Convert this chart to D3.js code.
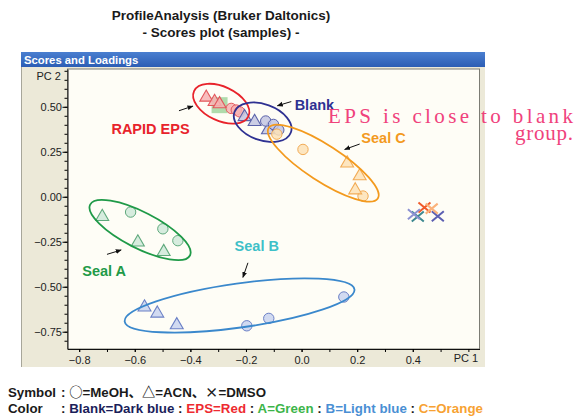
<!DOCTYPE html>
<html>
<head>
<meta charset="utf-8">
<script src="https://cdn.jsdelivr.net/npm/d3@7"></script>
<style>
  body { margin: 0; background: #fff; }
  svg { display: block; font-family: "Liberation Sans", Arial, "Noto Sans CJK JP", sans-serif; }
</style>
</head>
<body>
<div id="chart"></div>
<script>
(function(d3) {
  'use strict';

  // PCA scores
  var sampleGroup = [
    'EPS', 'EPS', 'EPS', 'EPS', 'EPS', 'EPS', 'EPS',
    'Blank', 'Blank', 'Blank', 'Blank', 'Blank', 'Blank', 'Blank',
    'Seal C', 'Seal C', 'Seal C', 'Seal C', 'Seal C', 'Seal C', 'Seal C',
    'Seal A', 'Seal A', 'Seal A', 'Seal A', 'Seal A', 'Seal A', 'Seal A',
    'Seal B', 'Seal B', 'Seal B', 'Seal B', 'Seal B', 'Seal B', 'Seal B'
  ];
  var sampleSolvent = [
    'ACN', 'ACN', 'ACN', 'MeOH', 'MeOH', 'MeOH', 'DMSO',
    'ACN', 'ACN', 'ACN', 'MeOH', 'MeOH', 'MeOH', 'DMSO',
    'MeOH', 'MeOH', 'MeOH', 'ACN', 'ACN', 'ACN', 'DMSO',
    'ACN', 'ACN', 'ACN', 'MeOH', 'MeOH', 'MeOH', 'DMSO',
    'ACN', 'ACN', 'ACN', 'MeOH', 'MeOH', 'MeOH', 'DMSO'
  ];
  var pc1 = [
    -0.343, -0.313, -0.295, -0.253, -0.235, -0.223, 0.442,
    -0.205, -0.169, -0.121, -0.129, -0.101, -0.082, 0.490,
    -0.089, 0.005, 0.221, 0.164, 0.209, 0.193, 0.468,
    -0.717, -0.589, -0.496, -0.615, -0.499, -0.445, 0.418,
    -0.565, -0.519, -0.449, -0.197, -0.118, 0.152, 0.404
  ];
  var pc2 = [
    0.552, 0.528, 0.515, 0.491, 0.482, 0.472, -0.060,
    0.444, 0.417, 0.371, 0.421, 0.402, 0.371, -0.108,
    0.348, 0.263, 0.004, 0.186, 0.115, 0.037, -0.066,
    -0.111, -0.253, -0.306, -0.085, -0.178, -0.244, -0.110,
    -0.614, -0.648, -0.713, -0.717, -0.676, -0.557, -0.097
  ];

  var xTicks = [-0.8, -0.6, -0.4, -0.2, 0.0, 0.2, 0.4];
  var yTicks = [-0.75, -0.5, -0.25, 0.0, 0.25, 0.5];

  var width = 576;
  var height = 418;
  var plot = { left: 67.5, right: 479.5, top: 69, bottom: 349 };

  var fillColor = {
    'EPS': '#f7b3b3', 'Blank': '#c3c6e2', 'Seal C': '#fde2b6',
    'Seal A': '#cfe9d9', 'Seal B': '#c9d3f0'
  };
  var strokeColor = {
    'EPS': '#e2585c', 'Blank': '#5a62aa', 'Seal C': '#f2ab55',
    'Seal A': '#5fa97c', 'Seal B': '#6b80c6'
  };
  var crossColor = {
    'EPS': '#f05a2a', 'Blank': '#5c5fb2', 'Seal C': '#fbb27a',
    'Seal A': '#3c8890', 'Seal B': '#8c92d2'
  };

  var x = d3.scaleLinear().domain([-0.842, 0.64]).range([plot.left, plot.right]);
  var y = d3.scaleLinear().domain([-0.846, 0.71]).range([plot.bottom, plot.top]);

  var svg = d3.select('#chart')
    .append('svg')
    .attr('width', width)
    .attr('height', height);

  var defs = svg.append('defs');
  var grad = defs.append('linearGradient').attr('id', 'bar').attr('x1', 0).attr('y1', 0).attr('x2', 0).attr('y2', 1);
  grad.append('stop').attr('offset', '0%').attr('stop-color', '#4a7fd0');
  grad.append('stop').attr('offset', '100%').attr('stop-color', '#2c5db4');
  defs.append('marker')
    .attr('id', 'arrow')
    .attr('viewBox', '0 0 10 10')
    .attr('refX', 9).attr('refY', 5)
    .attr('markerWidth', 6).attr('markerHeight', 6)
    .attr('orient', 'auto')
    .append('path')
    .attr('d', 'M0,1L10,5L0,9Z')
    .attr('fill', '#111');

  // title
  svg.append('text')
    .attr('x', 221).attr('y', 20)
    .attr('text-anchor', 'middle')
    .attr('font-size', 13.5).attr('font-weight', 'bold').attr('fill', '#1a1a1a')
    .text('ProfileAnalysis (Bruker Daltonics)');
  svg.append('text')
    .attr('x', 221).attr('y', 37)
    .attr('text-anchor', 'middle')
    .attr('font-size', 13.5).attr('font-weight', 'bold').attr('fill', '#1a1a1a')
    .text('- Scores plot (samples) -');

  // window frame
  svg.append('rect')
    .attr('x', 21).attr('y', 52).attr('width', 464).attr('height', 315)
    .attr('fill', '#ece9d8');
  svg.append('line')
    .attr('x1', 21.5).attr('x2', 21.5).attr('y1', 52).attr('y2', 367)
    .attr('stroke', '#a7a69a');
  svg.append('rect')
    .attr('x', 21).attr('y', 52).attr('width', 464).attr('height', 15)
    .attr('fill', 'url(#bar)');
  svg.append('text')
    .attr('x', 24).attr('y', 63.5)
    .attr('font-size', 11.3).attr('font-weight', 'bold').attr('fill', '#fff')
    .text('Scores and Loadings');

  svg.append('rect')
    .attr('x', plot.left).attr('y', plot.top)
    .attr('width', plot.right - plot.left).attr('height', plot.bottom - plot.top)
    .attr('fill', '#fefdf6')
    .attr('stroke', '#7c7c74');

  // axes
  var xMinor = d3.range(-0.8, 0.65, 0.1);
  var yMinor = d3.range(-0.8, 0.71, 0.05);

  svg.append('g')
    .attr('transform', 'translate(0,' + plot.bottom + ')')
    .call(d3.axisBottom(x).tickValues(xMinor).tickSize(3).tickSizeOuter(0).tickFormat(''))
    .call(function(g) { g.select('.domain').attr('stroke', '#111'); });
  svg.append('g')
    .attr('transform', 'translate(0,' + plot.bottom + ')')
    .call(d3.axisBottom(x).tickValues(xTicks).tickSize(3).tickSizeOuter(0).tickFormat(d3.format('.1f')))
    .call(function(g) {
      g.select('.domain').remove();
      g.selectAll('text').attr('font-size', 11).attr('fill', '#222').attr('dy', '0.85em');
    });
  svg.append('g')
    .attr('transform', 'translate(' + plot.left + ',0)')
    .call(d3.axisLeft(y).tickValues(yMinor).tickSize(3).tickSizeOuter(0).tickFormat(''))
    .call(function(g) { g.select('.domain').attr('stroke', '#111'); });
  svg.append('g')
    .attr('transform', 'translate(' + plot.left + ',0)')
    .call(d3.axisLeft(y).tickValues(yTicks).tickSize(5).tickSizeOuter(0).tickFormat(d3.format('.2f')))
    .call(function(g) {
      g.select('.domain').remove();
      g.selectAll('text').attr('font-size', 11).attr('fill', '#222').attr('x', -5.5);
    });

  svg.append('text')
    .attr('x', 61).attr('y', 80)
    .attr('text-anchor', 'end')
    .attr('font-size', 11).attr('fill', '#222')
    .text('PC 2');
  svg.append('text')
    .attr('x', 466).attr('y', 362)
    .attr('text-anchor', 'middle')
    .attr('font-size', 11).attr('fill', '#222')
    .text('PC 1');

  // group ellipses
  var ellipses = [
    { group: 'EPS', cx: -0.289, cy: 0.517, rx: 30, ry: 17, angle: 25, color: '#e8232b' },
    { group: 'Blank', cx: -0.140, cy: 0.414, rx: 30, ry: 18, angle: 20, color: '#2e3192' },
    { group: 'Seal C', cx: 0.078, cy: 0.187, rx: 65, ry: 18, angle: 33, color: '#f39a1e' },
    { group: 'Seal A', cx: -0.581, cy: -0.185, rx: 56, ry: 18, angle: 27, color: '#1f9a48' },
    { group: 'Seal B', cx: -0.223, cy: -0.604, rx: 116, ry: 22, angle: -8, color: '#3a88cc' }
  ];

  var samples = pc1.map(function(v, i) {
    return { group: sampleGroup[i], solvent: sampleSolvent[i], pc1: v, pc2: pc2[i] };
  });

  // highlighted sample (green square)
  svg.append('rect')
    .attr('x', x(-0.295) - 8).attr('y', y(0.509) - 8)
    .attr('width', 16).attr('height', 16)
    .attr('fill', '#7cc47c').attr('opacity', 0.6);

  var triangle = d3.symbol().type(d3.symbolTriangle).size(72);

  var marks = svg.append('g').selectAll('g')
    .data(samples)
    .enter()
    .append('g')
    .attr('transform', function(d) { return 'translate(' + x(d.pc1) + ',' + y(d.pc2) + ')'; });

  marks.filter(function(d) { return d.solvent === 'MeOH'; })
    .append('circle')
    .attr('r', 5.2)
    .attr('fill', function(d) { return fillColor[d.group]; })
    .attr('fill-opacity', 0.85)
    .attr('stroke', function(d) { return strokeColor[d.group]; })
    .attr('stroke-width', 1);

  marks.filter(function(d) { return d.solvent === 'ACN'; })
    .append('path')
    .attr('d', triangle)
    .attr('fill', function(d) { return fillColor[d.group]; })
    .attr('fill-opacity', 0.85)
    .attr('stroke', function(d) { return strokeColor[d.group]; })
    .attr('stroke-width', 1.1);

  marks.filter(function(d) { return d.solvent === 'DMSO'; })
    .append('path')
    .attr('d', 'M-6,-5L6,5M-6,5L6,-5')
    .attr('fill', 'none')
    .attr('stroke', function(d) { return crossColor[d.group]; })
    .attr('stroke-width', 2);

  svg.append('g').selectAll('ellipse')
    .data(ellipses)
    .enter()
    .append('ellipse')
    .attr('transform', function(d) { return 'translate(' + x(d.cx) + ',' + y(d.cy) + ') rotate(' + d.angle + ')'; })
    .attr('rx', function(d) { return d.rx; })
    .attr('ry', function(d) { return d.ry; })
    .attr('fill', 'none')
    .attr('stroke', function(d) { return d.color; })
    .attr('stroke-width', 1.8);

  // group labels and arrows
  var labels = [
    { text: 'RAPID EPS', x: -0.684, y: 0.350, color: '#e8232b' },
    { text: 'Blank', x: -0.025, y: 0.481, color: '#2e3192' },
    { text: 'Seal C', x: 0.215, y: 0.297, color: '#f39a1e' },
    { text: 'Seal A', x: -0.789, y: -0.441, color: '#1f9a48' },
    { text: 'Seal B', x: -0.241, y: -0.300, color: '#3ec0c8' }
  ];
  var arrows = [
    { x1: -0.441, y1: 0.478, x2: -0.391, y2: 0.504 },
    { x1: -0.037, y1: 0.529, x2: -0.087, y2: 0.506 },
    { x1: 0.209, y1: 0.293, x2: 0.155, y2: 0.263 },
    { x1: -0.700, y1: -0.320, x2: -0.649, y2: -0.296 },
    { x1: -0.193, y1: -0.367, x2: -0.211, y2: -0.448 }
  ];

  svg.append('g').selectAll('text')
    .data(labels)
    .enter()
    .append('text')
    .attr('x', function(d) { return x(d.x); })
    .attr('y', function(d) { return y(d.y); })
    .attr('font-size', 14.5).attr('font-weight', 'bold')
    .attr('fill', function(d) { return d.color; })
    .text(function(d) { return d.text; });

  svg.append('g').selectAll('line')
    .data(arrows)
    .enter()
    .append('line')
    .attr('x1', function(d) { return x(d.x1); })
    .attr('y1', function(d) { return y(d.y1); })
    .attr('x2', function(d) { return x(d.x2); })
    .attr('y2', function(d) { return y(d.y2); })
    .attr('stroke', '#111').attr('stroke-width', 1)
    .attr('marker-end', 'url(#arrow)');

  // note
  svg.append('text')
    .attr('x', 328).attr('y', 123)
    .attr('font-family', '"Liberation Serif", "DejaVu Serif", serif')
    .attr('font-size', 21).attr('fill', '#f0427c')
    .attr('textLength', 245).attr('lengthAdjust', 'spacing')
    .text('EPS is close to blank');
  svg.append('text')
    .attr('x', 515).attr('y', 140)
    .attr('font-family', '"Liberation Serif", "DejaVu Serif", serif')
    .attr('font-size', 21).attr('fill', '#f0427c')
    .attr('textLength', 58).attr('lengthAdjust', 'spacing')
    .text('group.');

  // bottom legend
  var sym = '"Noto Sans CJK JP", "DejaVu Sans", sans-serif';
  var leg1 = svg.append('text').attr('y', 397).attr('font-size', 13.3).attr('font-weight', 'bold').attr('fill', '#1a1a1a');
  leg1.append('tspan').attr('x', 8).text('Symbol');
  leg1.append('tspan').attr('x', 61).text(': ');
  leg1.append('tspan').attr('font-family', sym).text('\u25CB');
  leg1.append('tspan').text('=MeOH');
  leg1.append('tspan').attr('font-family', sym).text('\u3001\u25B3');
  leg1.append('tspan').text('=ACN');
  leg1.append('tspan').attr('font-family', sym).text('\u3001\u00D7');
  leg1.append('tspan').text('=DMSO');

  var legParts = [
    { text: ': ', color: '#1a1a1a' },
    { text: 'Blank=Dark blue', color: '#1b1e5a' },
    { text: ' : ', color: '#1a1a1a' },
    { text: 'EPS=Red', color: '#ee2a30' },
    { text: ' : ', color: '#1a1a1a' },
    { text: 'A=Green', color: '#3db54a' },
    { text: ' : ', color: '#1a1a1a' },
    { text: 'B=Light blue', color: '#4a8fd4' },
    { text: ' : ', color: '#1a1a1a' },
    { text: 'C=Orange', color: '#f7a233' }
  ];
  svg.append('text').attr('x', 8).attr('y', 413)
    .attr('font-size', 13.3).attr('font-weight', 'bold').attr('fill', '#1a1a1a')
    .text('Color');
  var rest = svg.append('text').attr('x', 61).attr('y', 413)
    .attr('font-size', 13.3).attr('font-weight', 'bold')
    .attr('textLength', 422).attr('lengthAdjust', 'spacing');
  legParts.forEach(function(p) {
    rest.append('tspan').attr('fill', p.color).text(p.text);
  });
})(window.d3);
</script>
</body>
</html>
